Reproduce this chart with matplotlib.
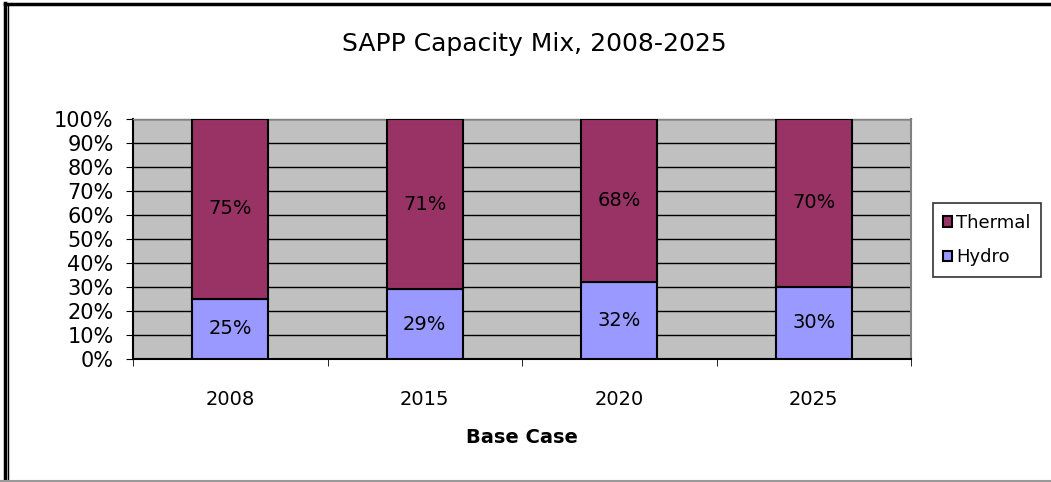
import numpy as np
import matplotlib
matplotlib.use('Agg')
import matplotlib.pyplot as plt
from matplotlib.lines import Line2D

# data
years = ['2008', '2015', '2020', '2025']
hydro = [25, 29, 32, 30]
thermal = [75, 71, 68, 70]

plt.rcParams['font.family'] = ['DejaVu Sans']

fig = plt.figure(figsize=(10.51, 4.82), dpi=100)
ax = fig.add_axes([133/1051, 1 - 359/482, (911 - 133)/1051, (359 - 119)/482])

x = np.arange(len(years))
w = 0.39
ax.set_facecolor('#C0C0C0')
ax.bar(x, hydro, w, color='#9999FF', edgecolor='black', linewidth=1.5, label='Hydro', zorder=3)
ax.bar(x, thermal, w, bottom=hydro, color='#993366', edgecolor='black', linewidth=1.5, label='Thermal', zorder=3)

for i in range(len(years)):
    ax.text(x[i], hydro[i] / 2, f'{hydro[i]}%', ha='center', va='center', fontsize=14, zorder=4)
    ax.text(x[i], hydro[i] + thermal[i] / 2, f'{thermal[i]}%', ha='center', va='center', fontsize=14, zorder=4)

ax.set_xlim(-0.5, 3.5)
ax.set_ylim(0, 100)
ax.set_yticks(range(0, 101, 10))
ax.set_yticklabels([f'{v}%' for v in range(0, 101, 10)], fontsize=15)
ax.yaxis.grid(True, color='black', linewidth=1, zorder=1)
ax.set_axisbelow(True)

ax.set_xticks(x)
ax.set_xticklabels(years, fontsize=14)
ax.set_xticks(np.arange(-0.5, 4, 1), minor=True)
ax.tick_params(axis='x', which='major', length=0, pad=22)
ax.tick_params(axis='x', which='minor', length=5, direction='out', color='black')
ax.tick_params(axis='y', length=5, direction='out', pad=9)
ax.set_xlabel('Base Case', fontsize=14, fontweight='bold', labelpad=14)

ax.spines['left'].set_color('black')
ax.spines['left'].set_linewidth(1.5)
ax.spines['bottom'].set_color('black')
ax.spines['bottom'].set_linewidth(1.5)
ax.spines['right'].set_color('#808080')
ax.spines['right'].set_linewidth(1.5)
ax.spines['top'].set_color('#808080')
ax.spines['top'].set_linewidth(1.0)

fig.text(534/1051, 1 - 44/482, 'SAPP Capacity Mix, 2008-2025', ha='center', va='center', fontsize=18)

handles, labels = ax.get_legend_handles_labels()
leg = fig.legend(handles[::-1], labels[::-1], loc='center', bbox_to_anchor=(987/1051, 1 - 240/482),
                 fontsize=13, frameon=True, fancybox=False, edgecolor='black',
                 handlelength=0.5, handleheight=0.5, handletextpad=0.2, labelspacing=0.9,
                 borderpad=0.6)
leg.get_frame().set_linewidth(1.2)

# outer chart border
fig.add_artist(Line2D([5/1051, 5/1051], [0, 1 - 3/482], transform=fig.transFigure, color='black', linewidth=2.5))
fig.add_artist(Line2D([8/1051, 8/1051], [0, 1 - 6/482], transform=fig.transFigure, color='black', linewidth=1))
fig.add_artist(Line2D([5/1051, 1], [1 - 4/482, 1 - 4/482], transform=fig.transFigure, color='black', linewidth=2.5))
fig.add_artist(Line2D([0, 1], [1/482, 1/482], transform=fig.transFigure, color='#999999', linewidth=1.5))

fig.savefig('out.png', dpi=100)
